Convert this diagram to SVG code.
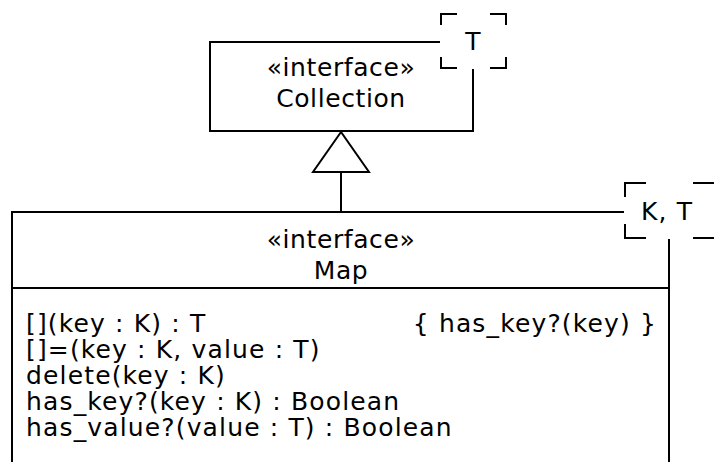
<svg xmlns="http://www.w3.org/2000/svg" width="715" height="462" viewBox="0 0 715 462">
<style>
text{font-family:"DejaVu Sans",Verdana,sans-serif;font-size:25px;fill:#000}
.h{letter-spacing:0.6px}
.m{letter-spacing:1.15px}
.c{text-anchor:middle}
.e{text-anchor:end}
.ln{fill:none;stroke:#000;stroke-width:2}
.tb{fill:#fff;stroke:none}
</style>
<rect width="715" height="462" fill="#fff"/>
<g id="Collection">
<rect class="ln" x="210" y="42" width="263" height="89"/>
<text class="c h" x="341" y="76">«interface»</text>
<text class="c h" x="341" y="107">Collection</text>
</g>
<g id="Collection-tparam">
<rect class="tb" x="440" y="13" width="66" height="56"/>
<path class="ln" d="M441 25V14H457M490 14H506V25M441 57V68H457M490 68H506V57"/>
<text class="c" x="473" y="50">T</text>
</g>
<g id="Map">
<rect class="ln" x="12" y="212" width="657" height="270"/>
<line class="ln" x1="12" y1="288" x2="669" y2="288"/>
<text class="c h" x="341" y="248">«interface»</text>
<text class="c h" x="341" y="279">Map</text>
<text class="m" x="26" y="332">[](key : K) : T</text>
<text class="m" x="26" y="358">[]=(key : K, value : T)</text>
<text class="m" x="26" y="384">delete(key : K)</text>
<text class="m" x="26" y="410">has_key?(key : K) : Boolean</text>
<text class="m" x="26" y="436">has_value?(value : T) : Boolean</text>
<text class="e m" x="657" y="332">{ has_key?(key) }</text>
</g>
<g id="Map-tparam">
<rect class="tb" x="624" y="183" width="90" height="56"/>
<path class="ln" d="M625 197V183H646M693 183H714M625 224V238H646M693 238H714"/>
<text class="c m" x="667" y="220">K, T</text>
</g>
<g id="connectors">
<line class="ln" x1="341" y1="172" x2="341" y2="212"/>
<polygon class="ln" points="341,132 313,172 369,172" style="fill:#fff"/>
</g>
</svg>
